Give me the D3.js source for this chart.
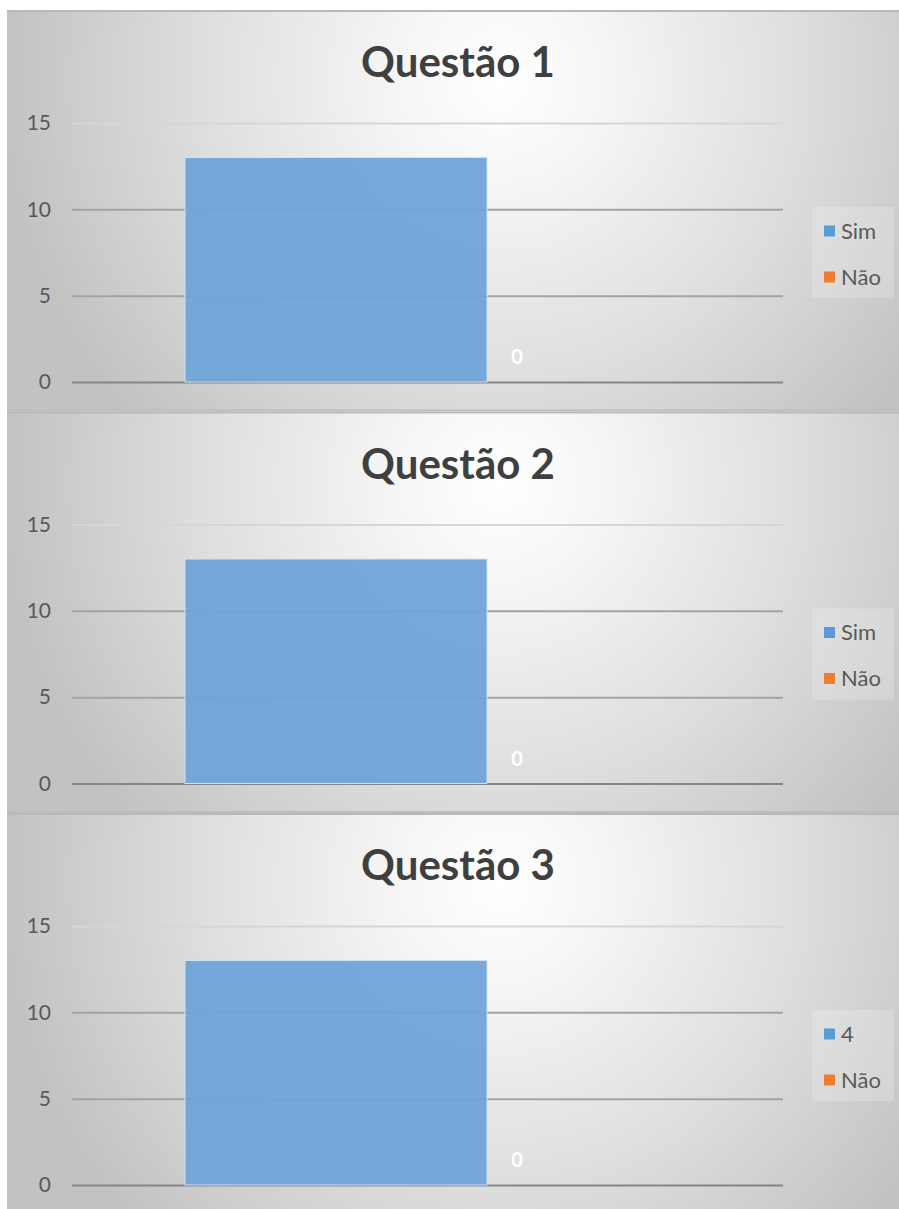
<!DOCTYPE html>
<html>
<head>
<meta charset="utf-8">
<script src="https://cdn.jsdelivr.net/npm/d3@7"></script>
<style>
  html, body { margin: 0; padding: 0; background: #ffffff; }
  svg { display: block; }
  text { font-family: Lato, "Open Sans", sans-serif; }
</style>
</head>
<body>
<svg id="chart" width="899" height="1209"></svg>
<script>
// ---- data ----
const titles = ["Questão 1", "Questão 2", "Questão 3"];
const seriesNames = [["Sim", "Não"], ["Sim", "Não"], ["4", "Não"]];
const seriesValues = [[13, 0], [13, 0], [13, 0]];
const yTicks = [0, 5, 10, 15];
const seriesColors = ["#6fa4d7", "#ed7d31"];
const legendColors = ["#5b9bd5", "#ed7d31"];

// ---- layout ----
const W = 899, H = 1209;
const panelX = 7, panelW = 892, panelH = 401.5, firstTop = 10;
const plotLeft = 72, plotRight = 783;
const yBottom = 372, yTop = 113;
const barStart = 185, barBandEnd = 789;

const svg = d3.select("#chart");
const defs = svg.append("defs");
const grad = defs.append("radialGradient")
  .attr("id", "bg")
  .attr("gradientUnits", "userSpaceOnUse")
  .attr("cx", 500).attr("cy", 70).attr("r", 500)
  .attr("fx", 500).attr("fy", 70);
grad.append("stop").attr("offset", "0").attr("stop-color", "#ffffff");
grad.append("stop").attr("offset", "0.2").attr("stop-color", "#f6f6f6");
grad.append("stop").attr("offset", "0.6").attr("stop-color", "#dedede");
grad.append("stop").attr("offset", "1").attr("stop-color", "#c2c2c2");

const gridColor = v => v === 0 ? "#858585" : (v === 15 ? "#d6d6d6" : "#a3a3a3");

titles.forEach((title, k) => {
  const top = firstTop + k * panelH;
  const g = svg.append("g").attr("transform", `translate(0,${top})`);

  g.append("rect")
    .attr("x", panelX).attr("y", 0)
    .attr("width", panelW).attr("height", panelH)
    .attr("fill", "url(#bg)");
  g.append("line")
    .attr("x1", panelX).attr("x2", W).attr("y1", 1).attr("y2", 1)
    .attr("stroke", "#b9b9b9").attr("stroke-width", 2);
  g.append("line")
    .attr("x1", panelX).attr("x2", W).attr("y1", panelH - 1).attr("y2", panelH - 1)
    .attr("stroke", "#bdbdbd").attr("stroke-width", 2);

  const y = d3.scaleLinear().domain([0, 15]).range([yBottom, yTop]);
  const x = d3.scaleBand().domain(seriesNames[k]).range([barStart, barBandEnd]);

  // gridlines + tick labels
  const axis = g.append("g")
    .attr("transform", `translate(${plotLeft},0)`)
    .call(d3.axisLeft(y).tickValues(yTicks).tickSize(-(plotRight - plotLeft)).tickPadding(21).tickFormat(d3.format("d")));
  axis.select(".domain").remove();
  axis.selectAll(".tick line")
    .attr("stroke", d => gridColor(d))
    .attr("stroke-width", 2);
  axis.selectAll(".tick text")
    .attr("fill", "#595959")
    .style("font-size", "21px")
    .style("font-family", "Lato, sans-serif");

  // title
  g.append("text")
    .attr("x", 458).attr("y", 67)
    .attr("text-anchor", "middle")
    .attr("fill", "#3f3f3f")
    .style("font-size", "42px")
    .style("font-weight", "700")
    .text(title);

  // bars
  const data = seriesNames[k].map((s, i) => ({ s, v: seriesValues[k][i], i }));
  g.selectAll("rect.bar").data(data).enter().append("rect")
    .attr("class", "bar")
    .attr("x", d => x(d.s))
    .attr("y", d => y(d.v))
    .attr("width", x.bandwidth())
    .attr("height", d => y(0) - y(d.v))
    .attr("fill", d => seriesColors[d.i])
    .attr("fill-opacity", 0.95)
    .attr("stroke", "#cfe1f2")
    .attr("stroke-width", 1);

  // data label for second series
  g.selectAll("text.lbl").data(data.filter(d => d.i === 1)).enter().append("text")
    .attr("class", "lbl")
    .attr("x", d => x(d.s) + 30)
    .attr("y", d => y(d.v) - 25)
    .attr("dy", "0.35em")
    .attr("text-anchor", "middle")
    .attr("fill", "#ffffff")
    .style("font-size", "20px")
    .style("font-weight", "700")
    .text(d => d.v);

  // legend
  const lg = g.append("g");
  lg.append("rect")
    .attr("x", 812).attr("y", 197).attr("width", 82).attr("height", 91)
    .attr("fill", "#ffffff").attr("fill-opacity", 0.2);
  const items = lg.selectAll("g.item").data(data).enter().append("g")
    .attr("class", "item")
    .attr("transform", d => `translate(824,${221 + 46 * d.i})`);
  items.append("rect")
    .attr("x", 0).attr("y", -5.5).attr("width", 11).attr("height", 11)
    .attr("fill", d => legendColors[d.i]);
  items.append("text")
    .attr("x", 17).attr("y", 0).attr("dy", "0.36em")
    .attr("fill", "#595959")
    .style("font-size", "22px")
    .text(d => d.s);
});
</script>
</body>
</html>
